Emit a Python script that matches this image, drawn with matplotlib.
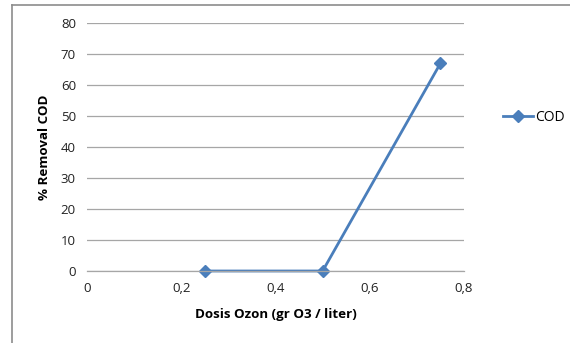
import matplotlib.pyplot as plt
from matplotlib.lines import Line2D

# Data
dose = [0.25, 0.5, 0.75]
removal_cod = [0, 0, 67]
x_ticks = [0, 0.2, 0.4, 0.6, 0.8]
x_tick_labels = ['0', '0,2', '0,4', '0,6', '0,8']
y_ticks = [0, 10, 20, 30, 40, 50, 60, 70, 80]

plt.rcParams['font.family'] = ['Open Sans', 'DejaVu Sans']

W, H = 570, 343
fig = plt.figure(figsize=(W / 100, H / 100), dpi=100)
ax = fig.add_axes([87 / W, 1 - 271 / H, (464 - 87) / W, (271 - 23) / H])

blue = '#4a7ebb'
ax.plot(dose, removal_cod, color=blue, lw=2, marker='D', ms=6.5, label='COD')

ax.set_xlim(0, 0.8)
ax.set_ylim(0, 80)
ax.set_xticks(x_ticks)
ax.set_xticklabels(x_tick_labels)
ax.set_yticks(y_ticks)
ax.tick_params(length=0, labelsize=9.5, colors='#222222', pad=8)
ax.grid(axis='y', color='#a6a6a6', lw=0.9)
ax.set_axisbelow(True)
for s in ['top', 'right', 'left']:
    ax.spines[s].set_visible(False)
ax.spines['bottom'].set_color('#a6a6a6')
ax.spines['bottom'].set_linewidth(0.9)
for line in ax.get_lines():
    line.set_clip_on(False)

ax.set_xlabel('Dosis Ozon (gr O3 / liter)', fontsize=9.6, fontweight='bold', labelpad=9)
ax.set_ylabel('% Removal COD', fontsize=9.6, fontweight='bold', labelpad=7)

ax.legend(loc='center left', bbox_to_anchor=(1.07, 0.62), frameon=False,
          fontsize=10, handlelength=2.2, handletextpad=0.1)

# Chart border (Excel-like frame, partially cropped)
fig.add_artist(Line2D([12 / W, 12 / W], [0, 1 - 5 / H], color='#8c8c8c', lw=1.2))
fig.add_artist(Line2D([12 / W, 1], [1 - 5 / H, 1 - 5 / H], color='#8c8c8c', lw=1.2))

fig.savefig('out.png', dpi=100)
